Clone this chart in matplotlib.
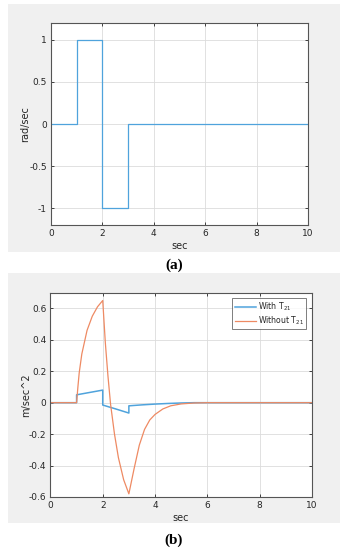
import matplotlib.pyplot as plt
from matplotlib.patches import Rectangle

# (a) angular rate command
t_a = [0, 1, 2, 3, 10]
rate_a = [0, 1, -1, 0, 0]

# (b) acceleration
t_with = [0, 1, 1, 1.5, 2, 2, 2.5, 3, 3, 3.5, 4, 4.5, 5, 5.5, 10]
acc_with = [0, 0, 0.05, 0.065, 0.08, -0.015, -0.04, -0.066, -0.02, -0.014, -0.009, -0.005, -0.002, 0, 0]

t_without = [0, 1, 1.05, 1.1, 1.2, 1.4, 1.6, 1.8, 2.0, 2.1, 2.2, 2.3, 2.45, 2.6, 2.8, 3.0,
             3.2, 3.4, 3.6, 3.8, 4.0, 4.3, 4.6, 5.0, 5.5, 6.0, 10]
acc_without = [0, 0, 0.1, 0.19, 0.31, 0.46, 0.55, 0.61, 0.65, 0.38, 0.17, -0.01, -0.2, -0.35, -0.49, -0.58,
               -0.42, -0.27, -0.17, -0.11, -0.075, -0.04, -0.02, -0.008, -0.002, 0, 0]

blue = '#4fa3dc'
orange = '#ee8a63'
gray_bg = '#f0f0f0'

fig = plt.figure(figsize=(3.48, 5.5), dpi=100)
fig.patches.append(Rectangle((0.023, 0.542), 0.954, 0.451, transform=fig.transFigure,
                             facecolor=gray_bg, edgecolor='none', zorder=-5))
fig.patches.append(Rectangle((0.023, 0.049), 0.954, 0.4545, transform=fig.transFigure,
                             facecolor=gray_bg, edgecolor='none', zorder=-5))


def style(ax):
    ax.set_xlim(0, 10)
    ax.set_xticks([0, 2, 4, 6, 8, 10])
    ax.grid(True, color='#dcdcdc', linewidth=0.6)
    ax.set_axisbelow(True)
    ax.tick_params(direction='in', length=2.5, width=0.6, labelsize=6.5,
                   colors='#262626', top=True, right=True, pad=3)
    for s in ax.spines.values():
        s.set_color('#555555')
        s.set_linewidth(0.8)
    ax.set_xlabel('sec', fontsize=7, color='#262626', labelpad=2)


ax1 = fig.add_axes([0.1466, 0.591, 0.7385, 0.367])
ax1.step(t_a, rate_a, where='post', color=blue, linewidth=0.9)
style(ax1)
ax1.set_ylim(-1.2, 1.2)
ax1.set_yticks([-1, -0.5, 0, 0.5, 1])
ax1.set_yticklabels(['-1', '-0.5', '0', '0.5', '1'])
ax1.set_ylabel('rad/sec', fontsize=7, color='#262626', labelpad=-1)

ax2 = fig.add_axes([0.145, 0.0964, 0.751, 0.3715])
ax2.plot(t_with, acc_with, color=blue, linewidth=1.1, label='With T$_{21}$')
ax2.plot(t_without, acc_without, color=orange, linewidth=0.9, label='Without T$_{21}$')
style(ax2)
ax2.set_ylim(-0.6, 0.7)
ax2.set_yticks([-0.6, -0.4, -0.2, 0, 0.2, 0.4, 0.6])
ax2.set_yticklabels(['-0.6', '-0.4', '-0.2', '0', '0.2', '0.4', '0.6'])
ax2.set_ylabel('m/sec^2', fontsize=7, color='#262626', labelpad=-2)
leg = ax2.legend(loc='upper right', fontsize=5.6, frameon=True, fancybox=False,
                 handlelength=2.8, borderpad=0.3, labelspacing=0.2, handletextpad=0.2,
                 borderaxespad=0.7)
leg.get_frame().set_edgecolor('#444444')
leg.get_frame().set_linewidth(0.6)
for txt in leg.get_texts():
    txt.set_color('#262626')

fig.text(0.5, 1 - 265 / 550, '(a)', ha='center', va='center', fontsize=11,
         family='Liberation Serif', weight='bold')
fig.text(0.5, 1 - 540 / 550, '(b)', ha='center', va='center', fontsize=11,
         family='Liberation Serif', weight='bold')

fig.savefig('out.png', dpi=100)
